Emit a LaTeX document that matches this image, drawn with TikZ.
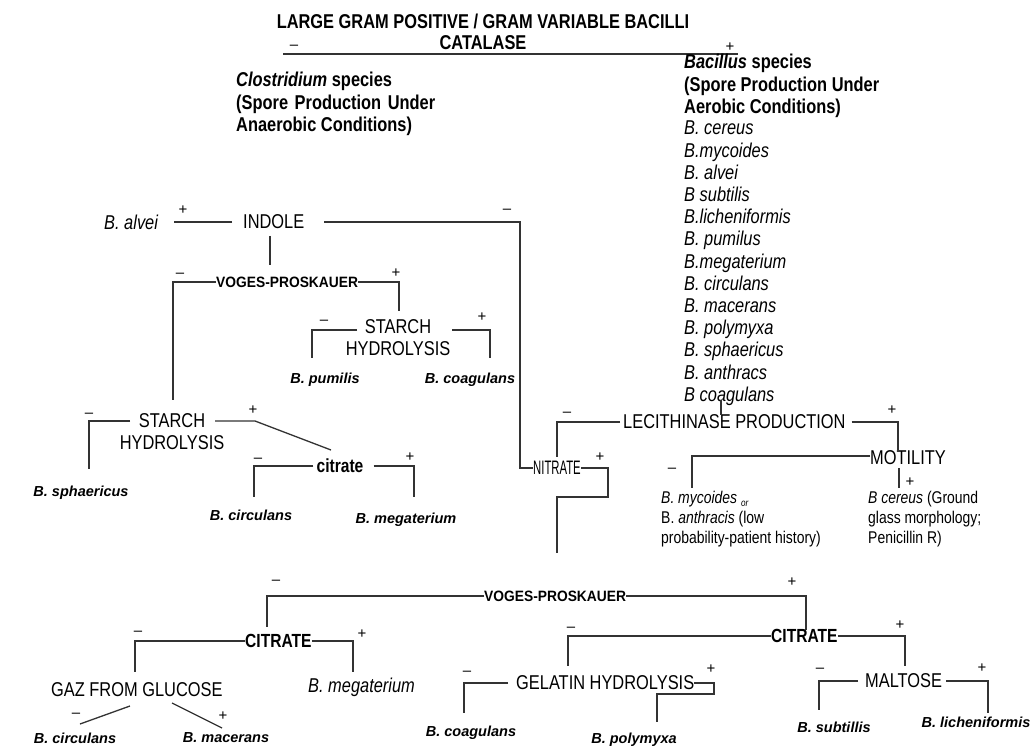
\documentclass[tikz,border=0pt]{standalone}
\usepackage{fontspec}
\setmainfont[FakeStretch=0.82]{Liberation Sans}
\newfontfamily\widefont{Liberation Sans}
\newfontfamily\vpfont[FakeStretch=0.92]{Liberation Sans}
\newfontfamily\nitfont[FakeStretch=0.58]{Liberation Sans}
\begin{document}
\begin{tikzpicture}[x=1pt,y=-1pt,
  txt/.style={inner sep=0pt, text depth=0pt, font=\fontsize{20}{22.2}\selectfont},
  itx/.style={txt, font=\fontsize{20}{22.2}\selectfont\itshape},
  bld/.style={inner sep=0pt, text depth=0pt, font=\fontsize{20}{22.5}\selectfont\bfseries},
  bldc/.style={inner sep=0pt, text depth=0pt, font=\fontsize{19}{22}\selectfont\bfseries},
  small/.style={inner sep=0pt, text depth=0pt, font=\fontsize{17}{20}\selectfont},
  spn/.style={inner sep=0pt, text depth=0pt, font=\widefont\fontsize{14.5}{16}\selectfont\bfseries\itshape},
  vp/.style={inner sep=0pt, text depth=0pt, font=\vpfont\fontsize{15}{16}\selectfont\bfseries},
  nit/.style={inner sep=0pt, text depth=0pt, font=\nitfont\fontsize{19.5}{20}\selectfont},
  sgn/.style={inner sep=0pt, font=\widefont\fontsize{15}{15}\selectfont},
  ln/.style={line width=1.3pt, draw=black!80}]
\useasboundingbox[fill=white] (0,0) rectangle (1031,746);

% ---------- header ----------
\node[bld] (title) at (483,21) {LARGE GRAM POSITIVE / GRAM VARIABLE BACILLI};
\node[bld] (catalase) at (483,43) {CATALASE};
\coordinate (catL) at (283,54);
\coordinate (catR) at (738,54);
\draw[ln] (catL) -- (catR);

\node[bld, anchor=north west, align=left] (clos) at (236,72)
  {\textit{Clostridium} species\\(Spore\hspace{2pt} Production\hspace{2pt} Under\\Anaerobic Conditions)};
\node[bld, anchor=north west, align=left] (bac) at (684,54)
  {\textit{Bacillus} species\\(Spore Production Under\\Aerobic Conditions)};
\node[itx, anchor=north west, align=left] (list) at (684,121)
  {B. cereus\\B.mycoides\\B. alvei\\B subtilis\\B.licheniformis\\B. pumilus\\B.megaterium\\B. circulans\\B. macerans\\B. polymyxa\\B. sphaericus\\B. anthracs};
\node[itx, anchor=west] (bcoag) at (684,394) {B coagulans};

% ---------- indole branch ----------
\node[itx, anchor=west] (alvei) at (104,222) {B. alvei};
\node[txt, anchor=west] (indole) at (243,222) {INDOLE};
\node[nit, anchor=west] (nitrate) at (533,468) {NITRATE};
\draw[ln] ([xshift=-11pt]indole.west) -- ([xshift=16pt]alvei.east);
\draw[ln] ([xshift=20pt]indole.east) -| ([xshift=-13pt]nitrate.west) -- (nitrate.west);

\node[vp, anchor=west] (vp1) at (216,282) {VOGES-PROSKAUER};
\draw[ln] (270,236) -- (270,265);
\node[txt, align=center, anchor=north] (starch1) at (398,319) {STARCH\\HYDROLYSIS};
\node[txt, align=center, anchor=north] (starch2) at (172,413) {STARCH\\HYDROLYSIS};
\draw[ln] (vp1.west) -| (173,400);
\draw[ln] (vp1.east) -| (399,311);

\node[spn] (pumilis) at (325,378) {B. pumilis};
\node[spn] (coag1) at (470,378) {B. coagulans};
\draw[ln] (357,330) -| (312,358);
\draw[ln] (452,330) -| (490,358);

\node[spn] (sphaer) at (81,491) {B. sphaericus};
\node[bldc] (citrate1) at (340,466) {citrate};
\draw[ln] (130,421) -| (89,469);
\draw[ln] (215,421) -- (255,421) -- (331,450);

\node[spn] (circ1) at (251,515) {B. circulans};
\node[spn] (mega1) at (406,518) {B. megaterium};
\draw[ln] ([xshift=-3pt]citrate1.west) -| (254,497);
\draw[ln] ([xshift=10pt]citrate1.east) -| (414,497);

% ---------- lecithinase ----------
\node[txt, anchor=west] (lec) at (623,422) {LECITHINASE PRODUCTION};
\draw[ln] (721,400) -- (721,415);
\draw[ln] ([xshift=-3pt]lec.west) -| (557,457);
\draw[ln] ([xshift=6pt]lec.east) -| (898,450);
\node[txt, anchor=west] (mot) at (870,458) {MOTILITY};
\draw[ln] ([yshift=2pt]mot.west) -| (692,488);
\draw[ln] (899,468) -- (899,488);
\node[small, anchor=north west, align=left] (myco) at (661,491)
  {\textit{B. mycoides} \raisebox{-3pt}{\fontsize{10}{10}\selectfont\itshape or}\\B. \textit{anthracis} (low\\probability-patient history)};
\node[small, anchor=north west, align=left] (cereus) at (868,491)
  {\textit{B cereus} (Ground\\glass morphology;\\Penicillin R)};

\draw[ln] (nitrate.east) -- (608,468) -- (608,497) -- (557,497) -- (557,553);

% ---------- lower tree ----------
\node[vp, anchor=west] (vp2) at (484,596) {VOGES-PROSKAUER};
\draw[ln] (vp2.west) -| (267,627);
\draw[ln] (vp2.east) -| (806,630);

\node[bldc, anchor=west] (cit2) at (245,641) {CITRATE};
\draw[ln] (cit2.west) -| (135,672);
\draw[ln] (cit2.east) -| (353,672);
\node[txt, anchor=west] (gaz) at (51,690) {GAZ FROM GLUCOSE};
\node[itx, anchor=west] (mega2) at (308,685) {B. megaterium};
\node[spn] (circ2) at (75,738) {B. circulans};
\node[spn] (macer) at (226,738) {B. macerans};
\draw[ln] (130,706) -- (80,724);
\draw[ln] (172,703) -- (222,728);

\node[bldc, anchor=west] (cit3) at (771,636) {CITRATE};
\draw[ln] (cit3.west) -| (568,666);
\draw[ln] (cit3.east) -| (905,666);
\node[txt, anchor=west] (gel) at (516,683) {GELATIN HYDROLYSIS};
\draw[ln] ([xshift=-8pt]gel.west) -| (464,713);
\draw[ln] (gel.east) -- (714,683) -- (714,694) -- (657,694) -- (657,722);
\node[txt, anchor=west] (malt) at (865,681) {MALTOSE};
\draw[ln] ([xshift=-7pt]malt.west) -| (819,710);
\draw[ln] ([xshift=4pt]malt.east) -| (988,713);
\node[spn] (coag2) at (471,731) {B. coagulans};
\node[spn] (polym) at (634,738) {B. polymyxa};
\node[spn] (subt) at (834,727) {B. subtillis};
\node[spn] (lich) at (976,722) {B. licheniformis};

% ---------- signs ----------
\foreach \x/\y/\s [count=\i] in {294/47/–, 730/47/+, 183/210/+, 507/211/–, 180/275/–, 396/273/+,
  324/322/–, 482/317/+, 89/415/–, 253/410/+, 258/460/–, 410/457/+, 567/414/–, 892/410/+,
  600/457/+, 672/470/–, 910/482/+, 276/582/–, 792/582/+, 138/633/–, 362/634/+, 76/715/–,
  223/716/+, 571/629/–, 900/625/+, 467/673/–, 711/669/+, 820/670/–, 982/668/+}
  \node[sgn] (sg\i) at (\x,\y) {\s};
\end{tikzpicture}
\end{document}
